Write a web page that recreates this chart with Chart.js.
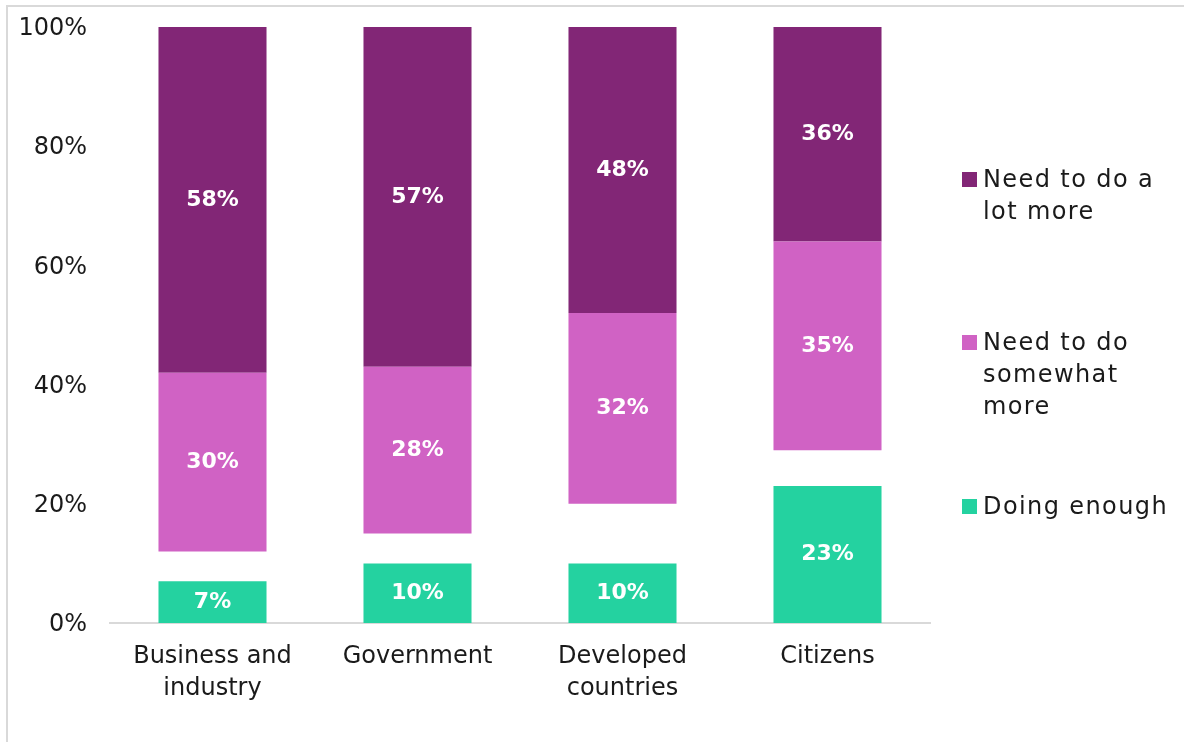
<!DOCTYPE html>
<html>
<head>
<meta charset="utf-8">
<script src="https://cdn.jsdelivr.net/npm/chart.js@4.4.1/dist/chart.umd.min.js"></script>
<style>
  html, body { margin: 0; padding: 0; background: #fff; }
  body { width: 1184px; height: 742px; position: relative; overflow: hidden; font-family: 'DejaVu Sans', sans-serif; }
  .frame { position: absolute; left: 6px; top: 5px; width: 1400px; height: 900px; border: 2px solid #d9d9d9; box-sizing: border-box; }
  #wrap { position: absolute; left: 0; top: 0; width: 1184px; height: 742px; }
  .legend-item { position: absolute; left: 962px; color: #1a1a1a; font-size: 24px; line-height: 32px; letter-spacing: 1.4px; }
  .legend-item .box { position: absolute; left: 0; top: 9px; width: 15px; height: 15px; }
  .legend-item .txt { margin-left: 21px; white-space: nowrap; }
</style>
</head>
<body>
<div class="frame"></div>
<div id="wrap"><canvas id="chart"></canvas></div>
<div id="legend"></div>
<script>
const categories = [['Business and', 'industry'], 'Government', ['Developed', 'countries'], 'Citizens'];
const doingEnough = [7, 10, 10, 23];
const somewhatMore = [30, 28, 32, 35];
const lotMore = [58, 57, 48, 36];
// whatever is left (don't know / no answer) stays blank between the green and pink blocks
const unanswered = categories.map((_, i) => 100 - doingEnough[i] - somewhatMore[i] - lotMore[i]);
const yTicks = [0, 20, 40, 60, 80, 100];

const colors = {
  lot: '#822676',
  somewhat: '#d062c4',
  enough: '#24d2a0',
};

const FONT = "'DejaVu Sans', sans-serif";

// white value labels in the middle of each visible segment
const segmentLabels = {
  id: 'segmentLabels',
  afterDatasetsDraw(chart) {
    const ctx = chart.ctx;
    ctx.save();
    ctx.fillStyle = '#ffffff';
    ctx.font = `bold 22px ${FONT}`;
    ctx.textAlign = 'center';
    ctx.textBaseline = 'middle';
    chart.data.datasets.forEach((ds, di) => {
      if (ds.hideLabel) return;
      chart.getDatasetMeta(di).data.forEach((bar, i) => {
        const v = ds.data[i];
        ctx.fillText(`${v}%`, bar.x, (bar.y + bar.base) / 2);
      });
    });
    ctx.restore();
  },
};

const ctx = document.getElementById('chart');
new Chart(ctx, {
  type: 'bar',
  data: {
    labels: categories,
    datasets: [
      { label: 'Doing enough', data: doingEnough, backgroundColor: colors.enough },
      { label: 'No answer', data: unanswered, backgroundColor: 'rgba(0,0,0,0)', hideLabel: true },
      { label: 'Need to do somewhat more', data: somewhatMore, backgroundColor: colors.somewhat },
      { label: 'Need to do a lot more', data: lotMore, backgroundColor: colors.lot },
    ],
  },
  options: {
    responsive: true,
    maintainAspectRatio: false,
    animation: false,
    layout: { padding: { top: 27, right: 254, bottom: 0, left: 0 } },
    datasets: { bar: { categoryPercentage: 1, barPercentage: 0.527 } },
    plugins: { legend: { display: false }, tooltip: { enabled: false } },
    scales: {
      x: {
        stacked: true,
        grid: { display: false },
        border: { color: '#d9d9d9', width: 2 },
        ticks: { color: '#1a1a1a', font: { family: FONT, size: 24, lineHeight: 1.33 }, padding: 10, maxRotation: 0 },
        afterFit(scale) { scale.height = 119; },
      },
      y: {
        stacked: true,
        min: 0,
        max: 100,
        grid: { display: false },
        border: { display: false },
        afterBuildTicks(scale) { scale.ticks = yTicks.map((v) => ({ value: v })); },
        ticks: {
          color: '#1a1a1a',
          font: { family: FONT, size: 24 },
          padding: 15,
          labelOffset: 2,
          callback(value) { return `${value}%`; },
        },
        afterFit(scale) {
          // fixed axis width; label overflow should not push the plot area down
          scale.width = 110;
          scale.paddingTop = 0;
          scale.paddingBottom = 0;
        },
      },
    },
  },
  plugins: [segmentLabels],
});

// legend at the right, top entry is the top block of the bars
const legendItems = [
  { lines: ['Need to do a', 'lot more'], color: colors.lot, top: 163 },
  { lines: ['Need to do', 'somewhat', 'more'], color: colors.somewhat, top: 326 },
  { lines: ['Doing enough'], color: colors.enough, top: 490 },
];
document.getElementById('legend').innerHTML = legendItems
  .map((item) => `
    <div class="legend-item" style="top:${item.top}px">
      <span class="box" style="background:${item.color}"></span>
      <div class="txt">${item.lines.join('<br>')}</div>
    </div>`)
  .join('');
</script>
</body>
</html>
